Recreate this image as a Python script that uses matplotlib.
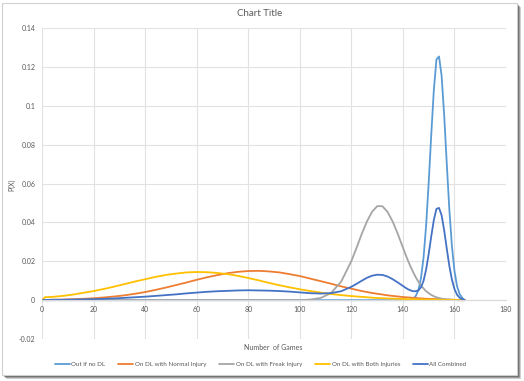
import matplotlib
matplotlib.use("Agg")
import matplotlib.pyplot as plt
from matplotlib.patches import Rectangle
from matplotlib.ticker import FixedLocator, FuncFormatter

plt.rcParams['font.family'] = ['Lato', 'DejaVu Sans']
plt.rcParams['axes.unicode_minus'] = False

# values
games = [0, 1, 4, 8, 12, 16, 20, 24, 28, 32, 36, 40, 44, 48, 52, 56, 60, 64, 68, 72,
         76, 80, 84, 88, 92, 96, 100, 104, 108, 112, 116, 120,
         122, 124, 126, 128, 130, 132, 134, 136, 138, 140,
         141, 142, 143, 144, 145, 146, 147, 148, 149, 150, 151, 152, 153, 154, 155, 156,
         157, 158, 159, 160, 161, 162, 163, 164]

out_no_dl = [0.0] * 42 + [
    0, 0.0001, 0.0003, 0.0008, 0.0022, 0.0052, 0.0113, 0.0220, 0.0386, 0.0607, 0.0856, 0.1084,
    0.1240, 0.1255, 0.1156, 0.0953, 0.0705, 0.0468, 0.0279, 0.0150, 0.0072, 0.0031, 0.0012, 0]

normal_injury = [
    0.0001, 0.0001, 0.0002, 0.0003, 0.0005, 0.0007, 0.0010, 0.0014, 0.0019, 0.0025, 0.0033, 0.0042,
    0.0053, 0.0065, 0.0078, 0.0091, 0.0105, 0.0118, 0.0129, 0.0139, 0.0146, 0.0150, 0.0151, 0.0148,
    0.0143, 0.0134, 0.0124, 0.0111, 0.0098, 0.0085, 0.0071, 0.0059,
    0.0053, 0.0047, 0.0042, 0.0037, 0.0033, 0.0029, 0.0025, 0.0022, 0.0019, 0.0016,
    0.0015, 0.0014, 0.0013, 0.0012, 0.0011, 0.0010, 0.0009, 0.0008, 0.0007, 0.0007, 0.0006, 0.0006,
    0.0005, 0.0005, 0.0004, 0.0004, 0.0003, 0.0003, 0.0002, 0.0002, 0.0001, 0.0001, 0, 0]

freak_injury = [0.0] * 26 + [
    0, 0.0003, 0.0011, 0.0036, 0.0095, 0.0202,
    0.0270, 0.0341, 0.0405, 0.0455, 0.0484, 0.0484, 0.0455, 0.0405, 0.0341, 0.0270,
    0.0235, 0.0202, 0.0171, 0.0143, 0.0117, 0.0095, 0.0076, 0.0060, 0.0046, 0.0036, 0.0027, 0.0020,
    0.0015, 0.0011, 0.0008, 0.0005, 0.0004, 0.0003, 0.0002, 0.0001, 0, 0, 0, 0]

both_injuries = [
    0, 0.0015, 0.0017, 0.0022, 0.0029, 0.0038, 0.0047, 0.0058, 0.0070, 0.0083, 0.0096, 0.0108,
    0.0120, 0.0130, 0.0137, 0.0143, 0.0145, 0.0144, 0.0140, 0.0134, 0.0125, 0.0114, 0.0102, 0.0089,
    0.0077, 0.0066, 0.0056, 0.0047, 0.0039, 0.0032, 0.0026, 0.0021,
    0.0019, 0.0017, 0.0015, 0.0013, 0.0011, 0.0010, 0.0009, 0.0008, 0.0007, 0.0006,
    0.0006, 0.0005, 0.0005, 0.0005, 0.0004, 0.0004, 0.0004, 0.0003, 0.0003, 0.0003, 0.0003, 0.0002,
    0.0002, 0.0002, 0.0002, 0.0001, 0.0001, 0.0001, 0.0001, 0.0001, 0, 0, 0, 0]

all_combined = [
    0, 0.0001, 0.0002, 0.0002, 0.0003, 0.0004, 0.0005, 0.0007, 0.0009, 0.0012, 0.0015, 0.0018,
    0.0022, 0.0026, 0.0030, 0.0035, 0.0039, 0.0043, 0.0046, 0.0048, 0.0050, 0.0051, 0.0050, 0.0049,
    0.0047, 0.0044, 0.0040, 0.0036, 0.0034, 0.0036, 0.0046, 0.0069,
    0.0084, 0.0100, 0.0115, 0.0126, 0.0131, 0.0130, 0.0122, 0.0108, 0.0091, 0.0073,
    0.0064, 0.0056, 0.0050, 0.0046, 0.0046, 0.0051, 0.0066, 0.0100, 0.0158, 0.0239, 0.0330, 0.0414,
    0.0470, 0.0475, 0.0437, 0.0360, 0.0266, 0.0177, 0.0106, 0.0057, 0.0028, 0.0012, 0.0005, 0]

series = [
    ("Out if no DL", out_no_dl, "#5B9BD5"),
    ("On DL with Normal Injury", normal_injury, "#ED7D31"),
    ("On DL with Freak Injury", freak_injury, "#A5A5A5"),
    ("On DL with Both Injuries", both_injuries, "#FFC000"),
    ("All Combined", all_combined, "#4472C4"),
]
x_ticks = [0, 20, 40, 60, 80, 100, 120, 140, 160, 180]
y_ticks = [-0.02, 0, 0.02, 0.04, 0.06, 0.08, 0.1, 0.12, 0.14]

W, H = 524, 381
fig = plt.figure(figsize=(W / 100, H / 100), dpi=100)
fig.patch.set_facecolor("white")

# chart area frame with soft shadow
for off, a in [(4, 0.25), (3, 0.35), (2, 0.5)]:
    fig.patches.append(Rectangle(((2 + off) / W, (H - 375 - off) / H), 515 / W, 372 / H,
                                 transform=fig.transFigure, facecolor="#404040",
                                 edgecolor="none", alpha=a, zorder=-2))
fig.patches.append(Rectangle((2 / W, (H - 375) / H), 515 / W, 372 / H,
                             transform=fig.transFigure, facecolor="white",
                             edgecolor="#D0D0D0", lw=0.8, zorder=-1))

ax = fig.add_axes([42.3 / W, 42 / H, (506 - 42.3) / W, (352.7 - 42) / H])
ax.set_facecolor("none")
ax.set_zorder(1)

for name, vals, color in series:
    ax.plot(games, vals, color=color, lw=1.3, label=name,
            solid_joinstyle="round", solid_capstyle="round")

ax.set_xlim(0, 180)
ax.set_ylim(-0.02, 0.14)
ax.xaxis.set_major_locator(FixedLocator(x_ticks))
ax.yaxis.set_major_locator(FixedLocator(y_ticks))
ax.yaxis.set_major_formatter(FuncFormatter(lambda v, p: "%g" % round(v, 2)))
ax.grid(True, color="#E2E2E2", lw=0.8)
ax.set_axisbelow(True)
for s in ["top", "right", "left"]:
    ax.spines[s].set_visible(False)
ax.spines["bottom"].set_position(("data", 0))
ax.spines["bottom"].set_color("#D9D9D9")
ax.spines["bottom"].set_linewidth(0.8)
ax.tick_params(length=0, labelsize=5, labelcolor="#595959")
ax.tick_params(axis="y", pad=5)
ax.tick_params(axis="x", pad=4)

fig.text(260 / W, 1 - 13 / H, "Chart Title", ha="center", va="center",
         fontsize=7, color="#595959", zorder=3)
fig.text(12 / W, 1 - 185 / H, "P(X)", ha="center", va="center", rotation=90,
         fontsize=5, color="#595959", zorder=3)
fig.text(273 / W, 1 - 347 / H, "Number  of Games", ha="center", va="center",
         fontsize=5, color="#595959", zorder=3)

handles, labels = ax.get_legend_handles_labels()
leg = fig.legend(handles, labels, loc="center", bbox_to_anchor=(260.5 / W, 1 - 364 / H),
                 ncol=5, frameon=False, fontsize=4.5, handlelength=2.4, handletextpad=0.3,
                 columnspacing=2.0)
leg.set_zorder(3)
for t in leg.get_texts():
    t.set_color("#595959")

fig.savefig("out.png", dpi=100, facecolor="white")
